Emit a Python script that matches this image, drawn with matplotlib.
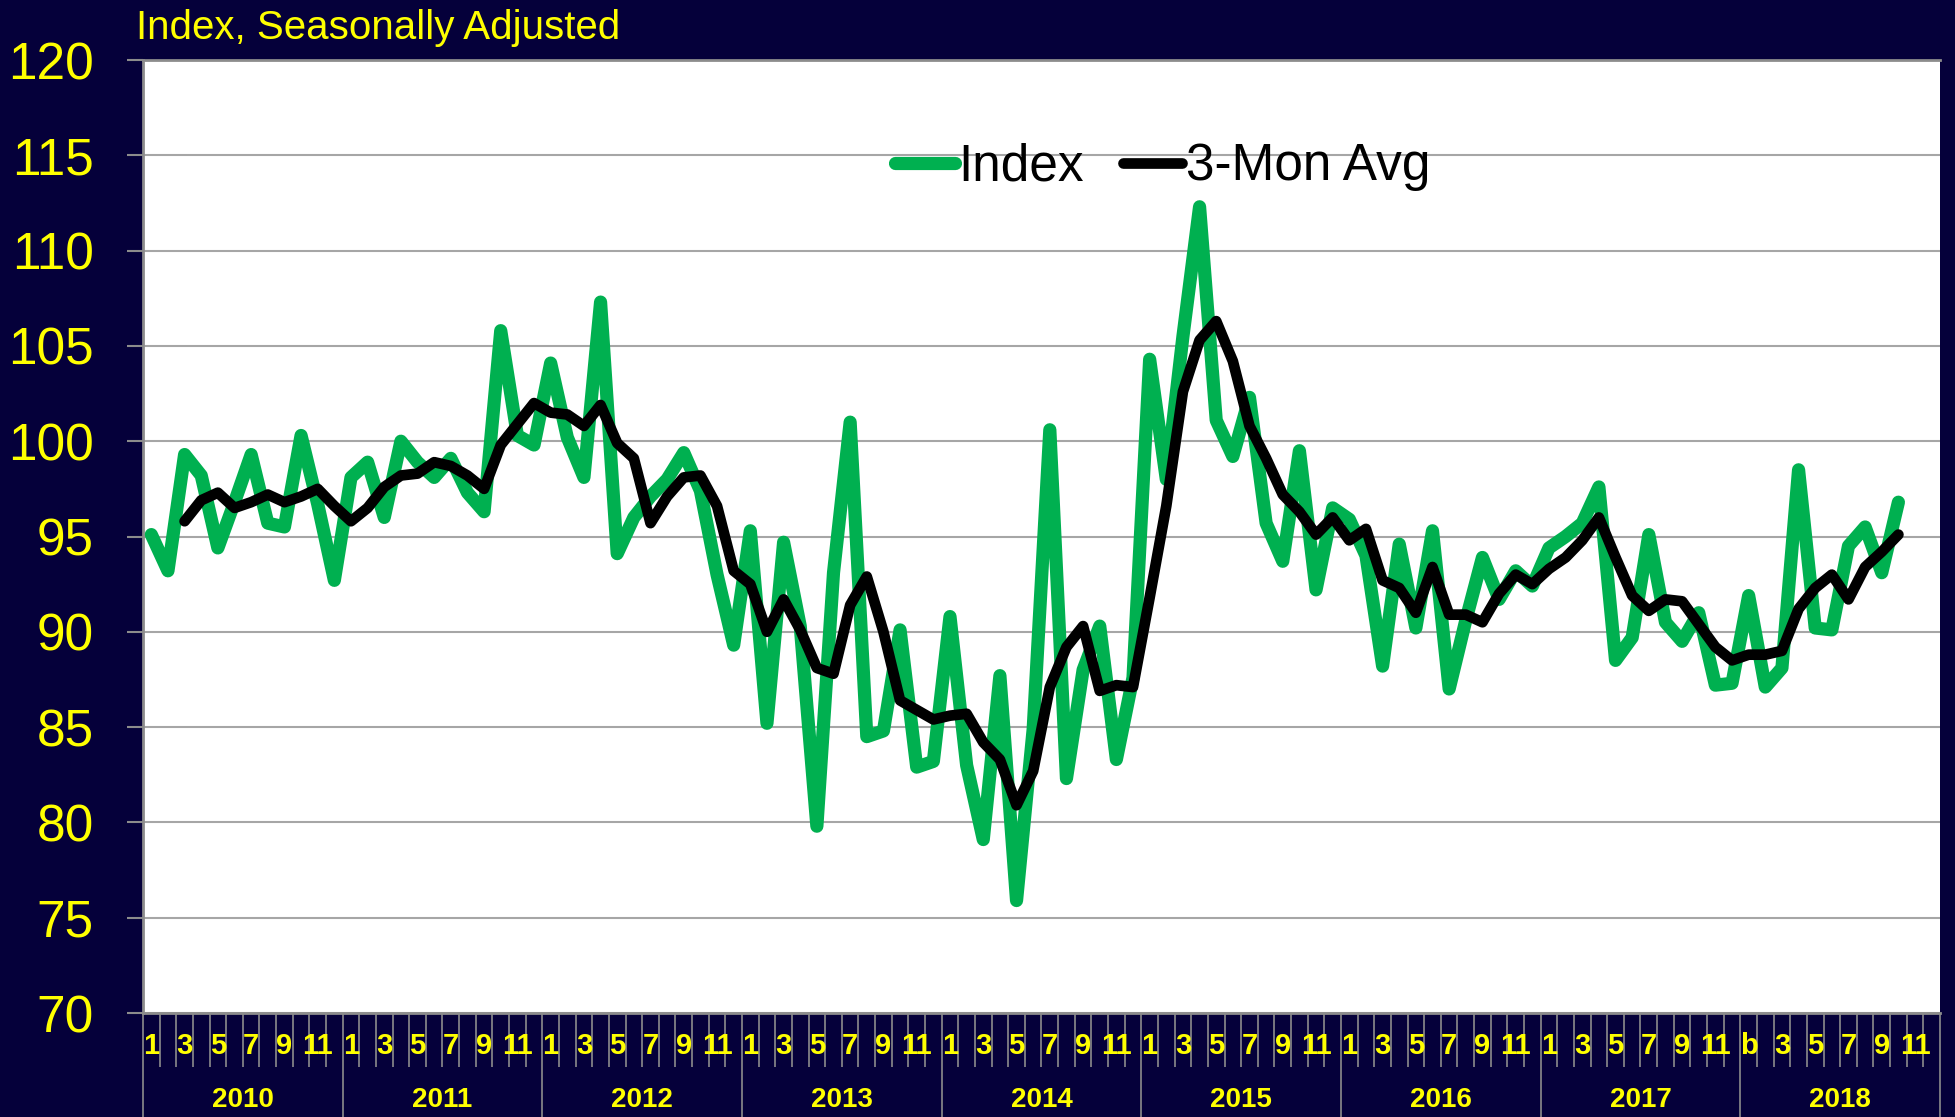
import numpy as np
import matplotlib.pyplot as plt
from matplotlib import font_manager

# ---- data (monthly, Jan 2010 .. Oct 2018)
years = ['2010', '2011', '2012', '2013', '2014', '2015', '2016', '2017', '2018']

index_2010 = [95.1, 93.2, 99.3, 98.2, 94.4, 96.8, 99.3, 95.7, 95.5, 100.3, 96.7, 92.7]
index_2011 = [98.1, 98.9, 96.0, 100.0, 98.9, 98.1, 99.1, 97.3, 96.3, 105.8, 100.3, 99.8]
index_2012 = [104.1, 100.2, 98.1, 107.3, 94.1, 96.0, 97.1, 98.0, 99.4, 97.4, 93.0, 89.3]
index_2013 = [95.3, 85.2, 94.7, 90.3, 79.8, 93.1, 101.0, 84.5, 84.8, 90.1, 82.9, 83.2]
index_2014 = [90.8, 83.0, 79.1, 87.7, 75.9, 84.9, 100.6, 82.3, 88.0, 90.3, 83.3, 87.6]
index_2015 = [104.3, 98.0, 105.5, 112.3, 101.1, 99.2, 102.3, 95.7, 93.7, 99.5, 92.2, 96.5]
index_2016 = [95.9, 94.0, 88.2, 94.6, 90.2, 95.3, 87.0, 90.6, 93.9, 91.7, 93.2, 92.4]
index_2017 = [94.4, 95.0, 95.7, 97.6, 88.5, 89.7, 95.1, 90.5, 89.5, 91.0, 87.2, 87.3]
index_2018 = [91.9, 87.1, 88.1, 98.5, 90.2, 90.1, 94.5, 95.5, 93.1, 96.8]

avg_2010 = [np.nan, np.nan, 95.8, 96.9, 97.3, 96.5, 96.8, 97.2, 96.8, 97.1, 97.5, 96.6]
avg_2011 = [95.8, 96.5, 97.6, 98.2, 98.3, 98.9, 98.7, 98.2, 97.5, 99.8, 100.9, 102.0]
avg_2012 = [101.5, 101.4, 100.8, 101.9, 99.9, 99.1, 95.7, 97.1, 98.1, 98.2, 96.6, 93.2]
avg_2013 = [92.5, 90.0, 91.7, 90.1, 88.1, 87.8, 91.4, 92.9, 90.0, 86.4, 85.9, 85.4]
avg_2014 = [85.6, 85.7, 84.2, 83.3, 80.9, 82.7, 87.1, 89.2, 90.3, 86.9, 87.2, 87.1]
avg_2015 = [91.8, 96.6, 102.6, 105.3, 106.3, 104.2, 100.8, 99.1, 97.2, 96.3, 95.1, 96.0]
avg_2016 = [94.8, 95.4, 92.7, 92.3, 91.0, 93.4, 90.9, 90.9, 90.5, 92.0, 93.0, 92.5]
avg_2017 = [93.3, 93.9, 94.8, 96.0, 93.9, 91.9, 91.1, 91.7, 91.6, 90.4, 89.2, 88.5]
avg_2018 = [88.8, 88.8, 89.0, 91.2, 92.3, 93.0, 91.7, 93.4, 94.2, 95.1]

month_labels = ['1', '', '3', '', '5', '', '7', '', '9', '', '11', '']
month_labels_2018 = ['b', '', '3', '', '5', '', '7', '', '9', '', '11', '']

index_vals = (index_2010 + index_2011 + index_2012 + index_2013 + index_2014
              + index_2015 + index_2016 + index_2017 + index_2018)
avg_vals = (avg_2010 + avg_2011 + avg_2012 + avg_2013 + avg_2014
            + avg_2015 + avg_2016 + avg_2017 + avg_2018)

# ---- style
NAVY = '#05003A'
YELLOW = '#FFFF00'
GREEN = '#00B050'
GRAY = '#8C8C8C'
W, H = 1956, 1117

installed = {f.name for f in font_manager.fontManager.ttflist}
narrow = 'Liberation Sans Narrow' if 'Liberation Sans Narrow' in installed else 'Liberation Sans'
month_size = 22 if narrow == 'Liberation Sans Narrow' else 21
plt.rcParams['font.family'] = ['Liberation Sans', 'DejaVu Sans']

fig = plt.figure(figsize=(W / 100, H / 100), dpi=100, facecolor=NAVY)
left, right, top, bottom = 143, 1940, 60, 1013
ax = fig.add_axes([left / W, 1 - bottom / H, (right - left) / W, (bottom - top) / H])
ax.set_facecolor('white')

n_months = len(years) * 12
x = np.arange(len(index_vals)) + 0.5
ax.plot(x, index_vals, color=GREEN, lw=9.5, solid_capstyle='round',
        solid_joinstyle='round', label='Index', zorder=3)
ax.plot(x, avg_vals, color='black', lw=7.7, solid_capstyle='round',
        solid_joinstyle='round', label='3-Mon Avg', zorder=4)

ax.set_xlim(0, n_months)
ax.set_ylim(70, 120)

# y axis
ax.set_yticks(np.arange(70, 121, 5))
ax.tick_params(axis='y', labelcolor=YELLOW, labelsize=37, length=11.5, width=1.5,
               color=GRAY, pad=24)
ax.grid(axis='y', color='#A6A6A6', lw=1.5, zorder=1)

# x axis: month boundaries + year separators
ax.set_xticks(np.arange(0, n_months + 1, 12))
ax.set_xticks(np.arange(0, n_months + 1), minor=True)
ax.tick_params(axis='x', which='major', length=75, width=1.2, color=GRAY, labelbottom=False)
ax.tick_params(axis='x', which='minor', length=39, width=1.2, color=GRAY)

for sp in ['left', 'bottom', 'top']:
    ax.spines[sp].set_color(GRAY)
    ax.spines[sp].set_linewidth(2)
ax.spines['right'].set_visible(False)

trans = ax.get_xaxis_transform()
ax_h = bottom - top
for k, yr in enumerate(years):
    labels = month_labels_2018 if yr == '2018' else month_labels
    for m, lab in enumerate(labels):
        if lab:
            ax.text(k * 12 + m + 0.5, -33 / ax_h, lab, transform=trans, ha='center',
                    va='center', color=YELLOW, fontsize=month_size, fontweight='bold',
                    family=[narrow, 'DejaVu Sans'], clip_on=False)
    ax.text(k * 12 + 6, -87 / ax_h, yr, transform=trans, ha='center', va='center',
            color=YELLOW, fontsize=20, fontweight='bold', clip_on=False)

# title + legend
fig.text(136 / W, 1 - 39 / H, 'Index, Seasonally Adjusted', color=YELLOW,
         fontsize=29, ha='left', va='baseline')
ax.legend(loc='center', bbox_to_anchor=(1163 / W, 1 - 167 / H),
          bbox_transform=fig.transFigure, ncol=2, frameon=False, fontsize=37,
          handlelength=1.15, handletextpad=0.08, columnspacing=0.75)

fig.savefig('out.png', dpi=100, facecolor=NAVY)
